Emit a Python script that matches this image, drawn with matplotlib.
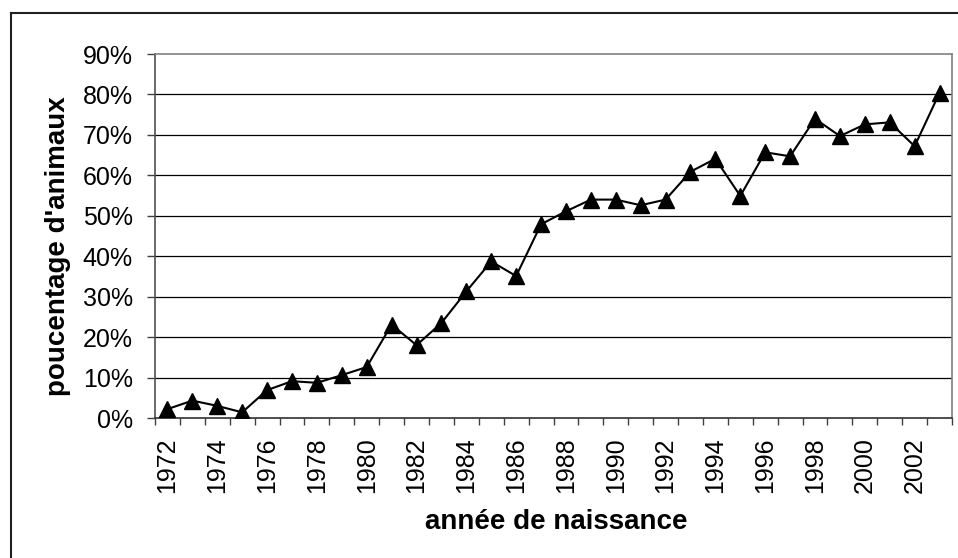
import numpy as np
import matplotlib
matplotlib.use("Agg")
import matplotlib.pyplot as plt
from matplotlib.lines import Line2D
from matplotlib.ticker import FuncFormatter

plt.rcParams['font.family'] = ['Liberation Sans', 'DejaVu Sans']

years = list(range(1972, 2004))
pct = [2.2, 4.3, 3.0, 1.4, 6.9, 9.1, 8.7, 10.6, 12.6, 23.1,
       18.0, 23.5, 31.3, 38.7, 35.1, 47.9, 51.1, 54.0, 54.0, 52.6,
       54.0, 60.9, 64.1, 54.9, 65.7, 64.7, 74.0, 69.7, 72.6, 73.1,
       67.2, 80.4]
y_ticks = list(range(0, 91, 10))
x_labels = [str(y) for y in years[::2]]

fig = plt.figure(figsize=(9.58, 5.58), dpi=100)
ax = fig.add_axes([155 / 958, 1 - 418 / 558, (952 - 155) / 958, (418 - 54) / 558])

x = np.arange(len(years))
ax.plot(x, pct, color='black', linewidth=1.5, marker='^', markersize=11,
        markerfacecolor='black', markeredgecolor='black', zorder=3)

ax.set_xlim(-0.5, len(years) - 0.5)
ax.set_ylim(0, 90)

# y axis
ax.set_yticks(y_ticks)
ax.yaxis.set_major_formatter(FuncFormatter(lambda v, p: f"{int(v)}%"))
ax.tick_params(axis='y', direction='out', length=6, width=1, pad=10,
               labelsize=18, color='#404040')
for v in y_ticks[1:-1]:
    ax.axhline(v, color='black', linewidth=0.9, zorder=1)

# x axis: ticks between categories, labels every other year
ax.set_xticks(np.arange(-0.5, len(years), 1.0))
ax.set_xticklabels([])
ax.set_xticks(x[::2], minor=True)
ax.set_xticklabels(x_labels, minor=True, rotation=90)
ax.tick_params(axis='x', which='major', direction='out', length=5, width=1,
               color='#404040')
ax.tick_params(axis='x', which='minor', length=0, pad=14, labelsize=18)

for side in ['top', 'right']:
    ax.spines[side].set_color('#808080')
    ax.spines[side].set_linewidth(1.2)
ax.spines['left'].set_color('#505050')
ax.spines['bottom'].set_color('#303030')
ax.spines['left'].set_linewidth(1.2)
ax.spines['bottom'].set_linewidth(1.2)

fig.text(556 / 958, 1 - 522 / 558, "année de naissance", ha='center', va='center',
         fontsize=20, fontweight='bold')
fig.text(58 / 958, 1 - 246 / 558, "poucentage d'animaux", ha='center', va='center',
         rotation=90, fontsize=20, fontweight='bold')

# outer chart frame (cropped at right and bottom)
fig.add_artist(Line2D([11 / 958, 11 / 958], [0, 1 - 13 / 558], color='#202020',
                      linewidth=1.5, transform=fig.transFigure))
fig.add_artist(Line2D([11 / 958, 1], [1 - 13 / 558, 1 - 13 / 558], color='#202020',
                      linewidth=1.5, transform=fig.transFigure))

fig.savefig("out.png", dpi=100)
